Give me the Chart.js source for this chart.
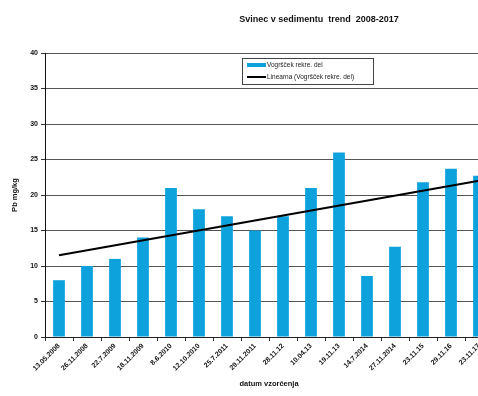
<!DOCTYPE html>
<html>
<head>
<meta charset="utf-8">
<script src="https://cdn.jsdelivr.net/npm/chart.js@4/dist/chart.umd.min.js"></script>
<style>
html,body{margin:0;padding:0;background:#fff;overflow:hidden}
#wrap{width:500px;height:396px}
</style>
</head>
<body>
<div id="wrap"><canvas id="c" width="500" height="396"></canvas></div>
<script>
// sampling dates and lead concentration (Pb mg/kg)
const dates=['13.05.2008','26.11.2008','22.7.2009','18.11.2009','8.6.2010','12.10.2010','25.7.2011','29.11.2011','28.11.12','10.04.13','19.11.13','14.7.2014','27.11.2014','23.11.15','29.11.16','23.11.17'];
const pb=[8,10,11,14,21,18,17,15,17,21,26,8.6,12.7,21.8,23.7,22.7];
// linear trend, first and last point
const trendStart=11.5;
const trendEnd=22.0;
const yTicks=[0,5,10,15,20,25,30,35,40];

const trend=dates.map((d,i)=>i===0?trendStart:(i===dates.length-1?trendEnd:null));

const FONT='"Liberation Sans", Arial, sans-serif';
const BLUE='#0ea2dc';

// title + boxed legend drawn on top of the plot
const extras={
id:'extras',
afterDraw(chart){
const ctx=chart.ctx;
ctx.save();
ctx.fillStyle='#111';
ctx.font='bold 9px '+FONT;
ctx.textAlign='center';
ctx.textBaseline='middle';
ctx.fillText('Svinec v sedimentu  trend  2008-2017',319,20);

// legend box
const lx=242,ly=58,lw=131,lh=26;
ctx.fillStyle='#fff';
ctx.fillRect(lx,ly,lw,lh);
ctx.strokeStyle='#444';
ctx.lineWidth=1;
ctx.strokeRect(lx+0.5,ly+0.5,lw,lh);
const ds=chart.data.datasets;
ctx.fillStyle=BLUE;
ctx.fillRect(lx+5,ly+5,19,4);
ctx.strokeStyle='#000';
ctx.lineWidth=2;
ctx.beginPath();
ctx.moveTo(lx+5,ly+19);ctx.lineTo(lx+24,ly+19);
ctx.stroke();
ctx.fillStyle='#222';
ctx.font='6.5px '+FONT;
ctx.textAlign='left';
ctx.fillText(ds[1].label,lx+25,ly+7);
ctx.fillText(ds[0].label,lx+25,ly+19);
ctx.restore();
}
};

new Chart(document.getElementById('c'),{
data:{
labels:dates,
datasets:[
{type:'line',label:'Linearna (Vogršček rekre. del)',data:trend,borderColor:'#000',borderWidth:2,pointRadius:0,spanGaps:true,order:0},
{type:'bar',label:'Vogršček rekre. del',data:pb,backgroundColor:BLUE,barPercentage:0.42,categoryPercentage:1,order:1}
]
},
options:{
responsive:false,
animation:false,
layout:{padding:{top:53,right:7,left:0,bottom:0}},
plugins:{legend:{display:false},tooltip:{enabled:false}},
scales:{
x:{
offset:true,
grid:{offset:true,drawOnChartArea:false,color:'#333',tickLength:4,tickColor:'#333'},
border:{color:'#222',width:1},
ticks:{color:'#111',font:{family:FONT,size:7,weight:'bold'},minRotation:45,maxRotation:45,autoSkip:false,padding:1},
title:{display:true,text:'datum vzorčenja',color:'#111',font:{family:FONT,size:7.5,weight:'bold'},padding:{top:0,bottom:8}},
afterFit(s){s.height=59;}
},
y:{
min:0,max:40,
afterBuildTicks(s){s.ticks=yTicks.map(v=>({value:v}));},
grid:{color:'#555',lineWidth:1,tickLength:4,tickColor:'#333'},
border:{color:'#111',width:1},
ticks:{color:'#111',font:{family:FONT,size:7,weight:'bold'},padding:3},
title:{display:true,text:'Pb mg/kg',color:'#111',font:{family:FONT,size:7.5,weight:'bold'},padding:{top:10,bottom:0}},
afterFit(s){s.width=45;}
}
}
},
plugins:[extras]
});
</script>
</body>
</html>
